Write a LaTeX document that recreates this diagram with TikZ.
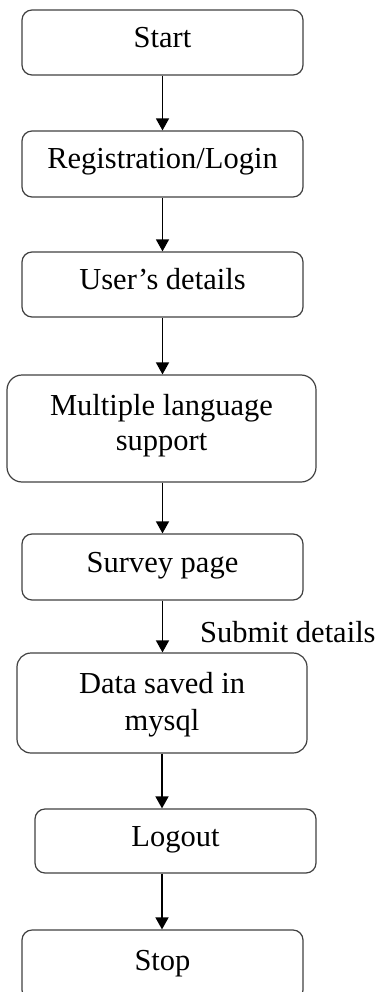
\documentclass[tikz,border=0pt]{standalone}
\usepackage{fontspec}
\setmainfont{Liberation Serif}
\usetikzlibrary{arrows.meta}
\begin{document}
\begin{tikzpicture}[x=1pt,y=-1pt,
  box/.style={draw=black!75, line width=1.2pt, rounded corners=10pt, inner sep=0pt,
    font=\fontsize{30.5}{36}\selectfont, text height=20pt, text depth=10pt, align=center},
  twoline/.style 2 args={text height=#1, text depth=#2},
  flow/.style={line width=1.5pt, -{Triangle[width=13pt,length=12pt]}}]
\useasboundingbox (0,0) rectangle (378,992);
\clip (0,0) rectangle (378,992);
\node[box, minimum width=281pt, minimum height=65pt] (start) at (162.5,42.5) {Start};
\node[box, minimum width=281pt, minimum height=66pt] (reg) at (162.5,164) {Registration/Login};
\node[box, minimum width=281pt, minimum height=65pt] (user) at (162.5,284.5) {User’s details};
\node[box, twoline={55pt}{12pt}, minimum width=309pt, minimum height=107pt, rounded corners=15pt,
  font=\fontsize{30.5}{35}\selectfont] (ml) at (161.5,428.5) {Multiple language\\support};
\node[box, minimum width=281pt, minimum height=66pt] (survey) at (162.5,567) {Survey page};
\node[box, twoline={57pt}{3pt}, minimum width=290pt, minimum height=100pt, rounded corners=14pt,
  font=\fontsize{30.5}{37}\selectfont] (data) at (162,703) {Data saved in\\mysql};
\node[box, minimum width=281pt, minimum height=64pt] (logout) at (175.5,841) {Logout};
\node[box, minimum width=281pt, minimum height=70pt] (stop) at (162.5,965) {Stop};
\node[anchor=base west, inner sep=0pt, font=\fontsize{30.5}{36}\selectfont] (submit) at (200,642) {Submit details};
\draw[flow] (start.south) -- (reg.north);
\draw[flow] (reg.south) -- (user.north);
\draw[flow] (user.south) -- (ml.north -| user.south);
\draw[flow] (ml.south -| user.south) -- (survey.north);
\draw[flow] (survey.south) -- (data.north -| survey.south);
\draw[flow] (data.south) -- (data.south |- logout.north);
\draw[flow] (data.south |- logout.south) -- (data.south |- stop.north);
\end{tikzpicture}
\end{document}
